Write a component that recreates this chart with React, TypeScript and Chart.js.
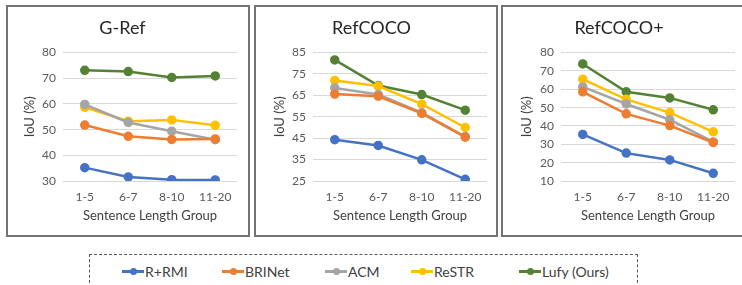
import React, { useEffect, useRef } from "react";
import { Chart, registerables } from "chart.js";

Chart.register(...registerables);

const categories = ["1-5", "6-7", "8-10", "11-20"];
const seriesNames = ["R+RMI", "BRINet", "ACM", "ReSTR", "Lufy (Ours)"];
const seriesColors = ["#4472C4", "#ED7D31", "#A5A5A5", "#FFC000", "#548235"];

const grefRRMI = [35.2, 31.6, 30.5, 30.4];
const grefBRINet = [51.8, 47.4, 46.2, 46.4];
const grefACM = [59.8, 52.8, 49.4, 46.1];
const grefReSTR = [58.7, 53.3, 53.8, 51.7];
const grefLufy = [73.1, 72.6, 70.3, 70.9];

const refcocoRRMI = [44.3, 41.6, 34.9, 25.8];
const refcocoBRINet = [65.6, 64.6, 56.6, 45.5];
const refcocoACM = [68.5, 65.4, 56.9, 45.8];
const refcocoReSTR = [72.0, 69.4, 60.9, 50.0];
const refcocoLufy = [81.6, 69.6, 65.4, 58.1];

const refcocoPlusRRMI = [35.4, 25.2, 21.5, 14.2];
const refcocoPlusBRINet = [58.6, 46.6, 40.2, 31.0];
const refcocoPlusACM = [61.3, 52.0, 43.4, 31.3];
const refcocoPlusReSTR = [65.5, 54.5, 47.3, 36.8];
const refcocoPlusLufy = [73.8, 58.6, 55.3, 48.8];

const panelTitles = ["G-Ref", "RefCOCO", "RefCOCO+"];
const yMins = [30, 25, 10];
const yMaxs = [80, 85, 80];
const yStep = 10;

const panelData = [
  [grefRRMI, grefBRINet, grefACM, grefReSTR, grefLufy],
  [refcocoRRMI, refcocoBRINet, refcocoACM, refcocoReSTR, refcocoLufy],
  [refcocoPlusRRMI, refcocoPlusBRINet, refcocoPlusACM, refcocoPlusReSTR, refcocoPlusLufy],
];

// layout (page px)
const panelLayout = [
  { left: 6, width: 244, chartLeft: 55, chartRightPad: 11, yTitlePad: 14 },
  { left: 254, width: 244, chartLeft: 57, chartRightPad: 9, yTitlePad: 16 },
  { left: 501, width: 244, chartLeft: 58, chartRightPad: 8, yTitlePad: 16 },
];
const PANEL_TOP = 5;
const PANEL_HEIGHT = 232;
const BORDER = 2;
const FONT = "Lato, 'Open Sans', sans-serif";

function Panel({ idx }: { idx: number }) {
  const ref = useRef<HTMLCanvasElement | null>(null);
  const lay = panelLayout[idx];
  const w = lay.width - 2 * BORDER;
  const h = PANEL_HEIGHT - 2 * BORDER;
  useEffect(() => {
    if (!ref.current) return;
    const chart = new Chart(ref.current, {
      type: "line",
      data: {
        labels: categories,
        datasets: panelData[idx].map((vals, i) => ({
          label: seriesNames[i],
          data: vals,
          borderColor: seriesColors[i],
          backgroundColor: seriesColors[i],
          pointBackgroundColor: seriesColors[i],
          pointBorderColor: seriesColors[i],
          borderWidth: 2.5,
          pointRadius: 3.5,
          tension: 0,
        })),
      },
      options: {
        animation: false,
        responsive: false,
        maintainAspectRatio: false,
        layout: { padding: { left: 0, right: lay.chartRightPad, top: 0, bottom: 0 } },
        plugins: {
          legend: { display: false },
          tooltip: { enabled: false },
          title: {
            display: true,
            text: panelTitles[idx],
            color: "#262626",
            font: { family: FONT, size: 18, weight: "normal" },
            padding: { top: 10, bottom: 14 },
          },
        },
        scales: {
          x: {
            offset: true,
            grid: { display: false, drawTicks: false },
            border: { display: false },
            ticks: {
              color: "#595959",
              font: { family: FONT, size: 12 },
              padding: 9,
            },
            title: {
              display: true,
              text: "Sentence Length Group",
              color: "#404040",
              font: { family: FONT, size: 13 },
              padding: { top: 0, bottom: 11 },
            },
            afterFit: (s: any) => {
              s.height = 54;
            },
          },
          y: {
            min: yMins[idx],
            max: yMaxs[idx],
            grid: { color: "#D9D9D9", drawTicks: false, lineWidth: 1 },
            border: { display: false },
            ticks: {
              stepSize: yStep,
              color: "#595959",
              font: { family: FONT, size: 12 },
              padding: 7,
            },
            title: {
              display: true,
              text: "IoU (%)",
              color: "#404040",
              font: { family: FONT, size: 13 },
              padding: { top: lay.yTitlePad, bottom: 0 },
            },
            afterFit: (s: any) => {
              s.width = lay.chartLeft;
            },
          },
        },
      },
    } as any);
    return () => chart.destroy();
  }, [idx]);
  return (
    <div
      style={{
        position: "absolute",
        left: lay.left,
        top: PANEL_TOP,
        width: lay.width,
        height: PANEL_HEIGHT,
        boxSizing: "border-box",
        border: `${BORDER}px solid #737373`,
        background: "#fff",
      }}
    >
      <canvas ref={ref} width={w} height={h} style={{ display: "block", width: w, height: h }} />
    </div>
  );
}

const legendIconLefts = [122, 222, 325, 411, 519];

function Legend() {
  return (
    <div
      style={{
        position: "absolute",
        left: 89,
        top: 254,
        width: 549,
        height: 60,
        boxSizing: "border-box",
        border: "1px dashed #595959",
      }}
    >
      {seriesNames.map((n, i) => (
        <div
          key={n}
          style={{
            position: "absolute",
            left: legendIconLefts[i] - 90,
            top: 7,
            height: 18,
            display: "flex",
            alignItems: "center",
            whiteSpace: "nowrap",
          }}
        >
          <div style={{ position: "relative", width: 22, height: 18, marginRight: 1 }}>
            <div style={{ position: "absolute", left: 0, top: 8, width: 22, height: 2.5, background: seriesColors[i] }} />
            <div
              style={{
                position: "absolute",
                left: 7.5,
                top: 5.5,
                width: 7,
                height: 7,
                borderRadius: "50%",
                background: seriesColors[i],
              }}
            />
          </div>
          <span style={{ fontFamily: FONT, fontSize: 14, color: "#404040" }}>{n}</span>
        </div>
      ))}
    </div>
  );
}

export default function App() {
  return (
    <div style={{ position: "absolute", left: 0, top: 0, width: 742, height: 285, overflow: "hidden", background: "#fff" }}>
      {[0, 1, 2].map((i) => (
        <Panel key={i} idx={i} />
      ))}
      <Legend />
    </div>
  );
}
